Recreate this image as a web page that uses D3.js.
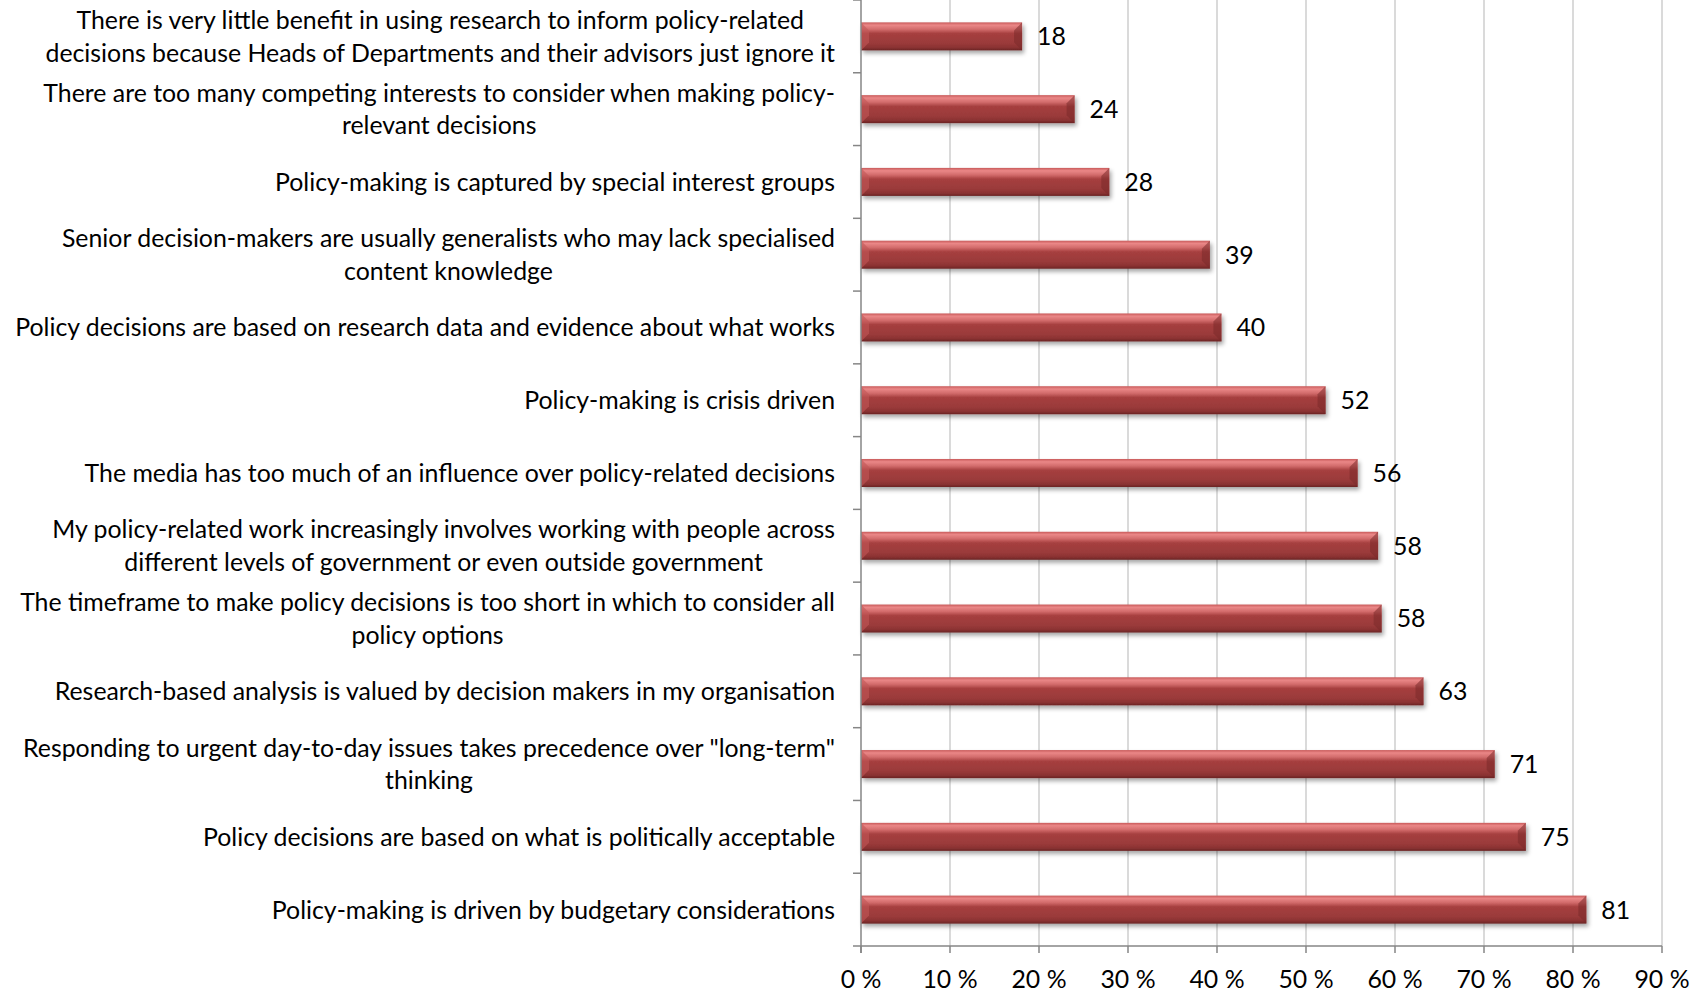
<!DOCTYPE html>
<html>
<head>
<meta charset="utf-8">
<script src="https://cdn.jsdelivr.net/npm/d3@7"></script>
<style>
  html, body { margin: 0; padding: 0; background: #fff; }
  svg { display: block; }
</style>
</head>
<body>
<svg id="chart" width="1702" height="993"></svg>
<script>
// ---- data ----
const categories = [
  ["There is very little benefit in using research to inform policy-related", "decisions because Heads of Departments and their advisors just ignore it"],
  ["There are too many competing interests to consider when making policy-", "relevant decisions"],
  ["Policy-making is captured by special interest groups"],
  ["Senior decision-makers are usually generalists who may lack specialised", "content knowledge"],
  ["Policy decisions are based on research data and evidence about what works"],
  ["Policy-making is crisis driven"],
  ["The media has too much of an influence over policy-related decisions"],
  ["My policy-related work increasingly involves working with people across", "different levels of government or even outside government"],
  ["The timeframe to make policy decisions is too short in which to consider all", "policy options"],
  ["Research-based analysis is valued by decision makers in my organisation"],
  ["Responding to urgent day-to-day issues takes precedence over \"long-term\"", "thinking"],
  ["Policy decisions are based on what is politically acceptable"],
  ["Policy-making is driven by budgetary considerations"]
];
const values = [18.1, 24.0, 27.9, 39.2, 40.5, 52.2, 55.8, 58.1, 58.5, 63.2, 71.2, 74.7, 81.5];
const valueLabels = ["18", "24", "28", "39", "40", "52", "56", "58", "58", "63", "71", "75", "81"];
const xTicks = [0, 10, 20, 30, 40, 50, 60, 70, 80, 90];
const xTickLabels = ["0 %", "10 %", "20 %", "30 %", "40 %", "50 %", "60 %", "70 %", "80 %", "90 %"];

// ---- layout ----
const svg = d3.select("#chart");
const plotLeft = 861, plotRight = 1662, plotTop = 0, plotBottom = 946;
const fontFamily = "Lato, 'Open Sans', sans-serif";

// fit font size so the longest single-line label spans ~820px like the original
const probe = svg.append("text").attr("font-family", fontFamily).attr("font-size", 20)
  .text("Policy decisions are based on research data and evidence about what works");
const probeW = probe.node().getComputedTextLength();
probe.remove();
const fontSize = 20 * 820 / probeW;
const lineH = 32.5;

const x = d3.scaleLinear().domain([0, 90]).range([plotLeft, plotRight]);
const idx = d3.range(categories.length);
const y = d3.scaleBand().domain(idx).range([plotTop, plotBottom])
  .paddingInner(0.615).paddingOuter(0.3075);
const step = y.step();

// defs
const defs = svg.append("defs");
const grad = defs.append("linearGradient").attr("id", "barGrad")
  .attr("x1", 0).attr("y1", 0).attr("x2", 0).attr("y2", 1);
[[0, "#c85a5a"], [0.1, "#ea8787"], [0.25, "#d26b6b"], [0.4, "#a63f3f"], [0.75, "#9a3a3a"], [0.9, "#8a3232"], [1, "#6a2424"]]
  .forEach(([o, c]) => grad.append("stop").attr("offset", o).attr("stop-color", c));
const filt = defs.append("filter").attr("id", "shadow").attr("x", "-5%").attr("y", "-30%").attr("width", "115%").attr("height", "180%");
filt.append("feDropShadow").attr("dx", 2).attr("dy", 3).attr("stdDeviation", 2.2)
  .attr("flood-color", "#000").attr("flood-opacity", 0.35);

// gridlines
svg.append("g").selectAll("line").data(xTicks.slice(1)).join("line")
  .attr("x1", d => x(d)).attr("x2", d => x(d))
  .attr("y1", plotTop).attr("y2", plotBottom)
  .attr("stroke", "#c6c6c6").attr("stroke-width", 1.3);

// bars
const bars = svg.append("g").selectAll("g").data(idx).join("g");
const bv = 8;
bars.append("rect")
  .attr("x", x(0)).attr("y", i => y(i))
  .attr("width", i => x(values[i]) - x(0))
  .attr("height", y.bandwidth())
  .attr("fill", "url(#barGrad)")
  .attr("filter", "url(#shadow)");
// left bevel
bars.append("path")
  .attr("d", i => {
    const x0 = x(0), y0 = y(i), y1 = y0 + y.bandwidth();
    return `M${x0},${y0}L${x0 + bv},${y0 + bv}L${x0 + bv},${y1 - bv}L${x0},${y1}Z`;
  })
  .attr("fill", "#c25656").attr("opacity", 0.6);
// right bevel
bars.append("path")
  .attr("d", i => {
    const x1 = x(values[i]), y0 = y(i), y2 = y0 + y.bandwidth();
    return `M${x1},${y0}L${x1 - bv},${y0 + bv}L${x1 - bv},${y2 - bv}L${x1},${y2}Z`;
  })
  .attr("fill", "#7a2a2a").attr("opacity", 0.55);

// value labels
svg.append("g").selectAll("text").data(idx).join("text")
  .attr("x", i => x(values[i]) + 15)
  .attr("y", i => y(i) + y.bandwidth() / 2)
  .attr("dy", "0.36em")
  .attr("font-family", fontFamily).attr("font-size", fontSize)
  .attr("fill", "#000")
  .text(i => valueLabels[i]);

// y axis line and ticks
const axisColor = "#868686";
svg.append("line").attr("x1", plotLeft).attr("x2", plotLeft)
  .attr("y1", plotTop).attr("y2", plotBottom + 7)
  .attr("stroke", axisColor).attr("stroke-width", 1.5);
svg.append("g").selectAll("line").data(d3.range(categories.length + 1)).join("line")
  .attr("x1", plotLeft - 8).attr("x2", plotLeft)
  .attr("y1", k => plotTop + k * step).attr("y2", k => plotTop + k * step)
  .attr("stroke", axisColor).attr("stroke-width", 1.5);

// x axis
svg.append("line").attr("x1", plotLeft).attr("x2", plotRight)
  .attr("y1", plotBottom).attr("y2", plotBottom)
  .attr("stroke", axisColor).attr("stroke-width", 1.5);
svg.append("g").selectAll("line").data(xTicks).join("line")
  .attr("x1", d => x(d)).attr("x2", d => x(d))
  .attr("y1", plotBottom).attr("y2", plotBottom + 7)
  .attr("stroke", axisColor).attr("stroke-width", 1.5);
svg.append("g").selectAll("text").data(xTicks).join("text")
  .attr("x", d => x(d)).attr("y", 979).attr("dy", "0.36em")
  .attr("text-anchor", "middle")
  .attr("font-family", fontFamily).attr("font-size", fontSize)
  .text((d, i) => xTickLabels[i]);

// category labels: block right-aligned at 835, lines centered within block
const labelRight = 835;
const lab = svg.append("g").selectAll("g").data(idx).join("g");
lab.each(function(i) {
  const g = d3.select(this);
  const lines = categories[i];
  const cy = y(i) + y.bandwidth() / 2;
  const texts = lines.map((s, k) => g.append("text")
    .attr("font-family", fontFamily).attr("font-size", fontSize)
    .attr("fill", "#000")
    .attr("y", cy + (k - (lines.length - 1) / 2) * lineH)
    .attr("dy", "0.36em")
    .attr("text-anchor", "middle")
    .text(s));
  const maxW = d3.max(texts, t => t.node().getComputedTextLength());
  texts.forEach(t => t.attr("x", labelRight - maxW / 2));
});
</script>
</body>
</html>
